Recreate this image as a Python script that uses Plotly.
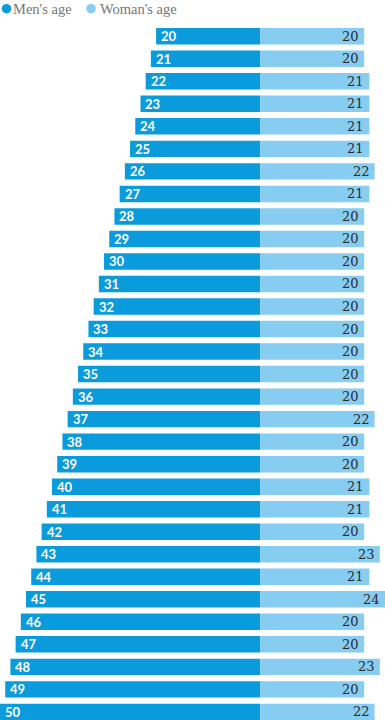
import plotly.graph_objects as go

men_age = [20, 21, 22, 23, 24, 25, 26, 27, 28, 29, 30, 31, 32, 33, 34, 35,
           36, 37, 38, 39, 40, 41, 42, 43, 44, 45, 46, 47, 48, 49, 50]
woman_age = [20, 20, 21, 21, 21, 21, 22, 21, 20, 20, 20, 20, 20, 20, 20, 20,
             20, 22, 20, 20, 21, 21, 20, 23, 21, 24, 20, 20, 23, 20, 22]
series_names = ["Men's age", "Woman's age"]

MEN_C = "#0a9bdc"
WOMEN_C = "#86cdf1"
W, H = 385, 720
T = 25
PH = H - T

rows = list(range(len(men_age)))
neg_men = [-a for a in men_age]

fig = go.Figure()
fig.add_trace(go.Bar(
    y=rows, x=neg_men, orientation="h",
    marker=dict(color=MEN_C, line=dict(width=0)),
    name=series_names[0], showlegend=False, hoverinfo="skip",
))
fig.add_trace(go.Bar(
    y=rows, x=woman_age, orientation="h",
    marker=dict(color=WOMEN_C, line=dict(width=0)),
    name=series_names[1], showlegend=False, hoverinfo="skip",
))

for r, v in zip(rows, neg_men):
    fig.add_annotation(x=v, y=r, xref="x", yref="y", text=str(-v), showarrow=False,
                       xanchor="left", yanchor="middle", xshift=3,
                       font=dict(color="white", size=13, family="Lato", weight="bold"))
for r, v in zip(rows, woman_age):
    fig.add_annotation(x=v, y=r, xref="x", yref="y", text=str(v), showarrow=False,
                       xanchor="right", yanchor="middle", xshift=-3,
                       font=dict(color="#2a2a2a", size=13, family="DejaVu Serif"))

fig.update_layout(
    width=W, height=H,
    margin=dict(l=0, r=0, t=T, b=0),
    paper_bgcolor="white", plot_bgcolor="white",
    barmode="overlay", bargap=0.27,
    xaxis=dict(range=[-50, 24], visible=False, fixedrange=True),
    yaxis=dict(range=[30.36, -0.5], visible=False, fixedrange=True),
)

def py(pix):
    return 1 + (T - pix) / PH

def px(pix):
    return pix / W

# legend: dots + labels (pixel positions converted to paper coords)
for cx, col in [(6.5, MEN_C), (91, WOMEN_C)]:
    fig.add_shape(type="circle", xref="paper", yref="paper",
                  x0=px(cx - 4.8), x1=px(cx + 4.8), y0=py(8.7 + 4.8), y1=py(8.7 - 4.8),
                  fillcolor=col, line=dict(width=0))
for name, x0 in [(series_names[0], 13), (series_names[1], 100)]:
    fig.add_annotation(x=px(x0), y=py(8.5), xref="paper", yref="paper", text=name,
                       showarrow=False, xanchor="left", yanchor="middle", xshift=-2,
                       font=dict(size=14.5, color="#767676", family="Liberation Serif"))

fig.write_html("out.html", config={"displayModeBar": False},
               post_script="document.body.style.margin='0';")
